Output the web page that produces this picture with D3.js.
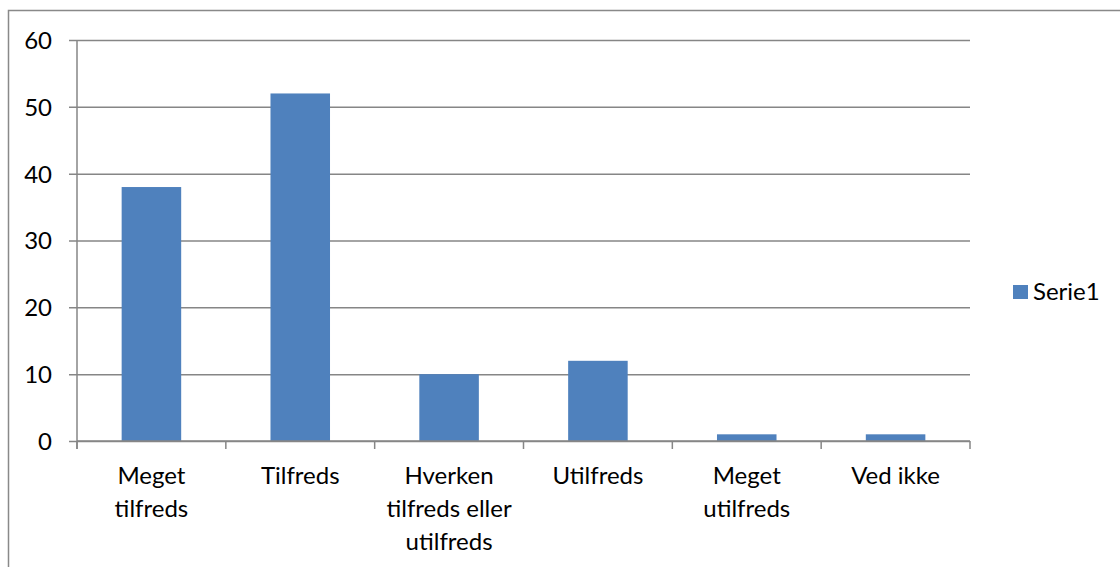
<!DOCTYPE html>
<html>
<head>
<meta charset="utf-8">
<script src="https://cdn.jsdelivr.net/npm/d3@7"></script>
<style>
  body { margin: 0; background: #fff; }
  svg text { font-family: Lato, "Open Sans", sans-serif; fill: #000; }
</style>
</head>
<body>
<div id="chart"></div>
<script>
// data
var categories = [["Meget", "tilfreds"], ["Tilfreds"], ["Hverken", "tilfreds eller", "utilfreds"],
                  ["Utilfreds"], ["Meget", "utilfreds"], ["Ved ikke"]];
var values = [38, 52, 10, 12, 1, 1];
var yTicks = [0, 10, 20, 30, 40, 50, 60];
var seriesName = "Serie1";

var width = 1120, height = 567;
var plotLeft = 77, plotRight = 970, plotTop = 40, plotBottom = 441;
var barColor = "#4f81bd", gridColor = "#868686";
var fontSize = "24px";

var svg = d3.select("#chart").append("svg")
    .attr("width", width)
    .attr("height", height);

// outer chart border (runs off the right and bottom)
svg.append("rect")
    .attr("x", 8.5).attr("y", 10.5)
    .attr("width", 1130).attr("height", 600)
    .attr("fill", "none")
    .attr("stroke", "#898989")
    .attr("stroke-width", 1.5);

var xScale = d3.scaleBand()
    .domain(d3.range(categories.length))
    .range([plotLeft, plotRight])
    .paddingInner(0.6)
    .paddingOuter(0.3);

var xEdges = d3.scaleLinear().domain([0, categories.length]).range([plotLeft, plotRight]);

var yScale = d3.scaleLinear().domain([0, 60]).range([plotBottom, plotTop]);

// gridlines + y axis
var yAxis = d3.axisLeft(yScale)
    .tickValues(yTicks)
    .tickSize(-(plotRight - plotLeft) - 8)
    .tickPadding(17)
    .tickFormat(d3.format("d"));

var yAxisPlot = svg.append("g")
    .attr("class", "axis axis--y")
    .attr("transform", "translate(" + (plotLeft - 8) + ",0)")
    .call(yAxis);
yAxisPlot.select(".domain").remove();
yAxisPlot.selectAll(".tick line").attr("stroke", gridColor).attr("stroke-width", 1.5);
yAxisPlot.selectAll(".tick text")
    .attr("font-family", null).attr("font-size", null)
    .style("font-size", fontSize).attr("dy", "0.35em");

// y axis line
svg.append("line")
    .attr("x1", plotLeft).attr("x2", plotLeft)
    .attr("y1", plotTop).attr("y2", plotBottom + 8)
    .attr("stroke", gridColor).attr("stroke-width", 1.5);

// bars
svg.selectAll(".bar")
    .data(values)
    .enter().append("rect")
    .attr("class", "bar")
    .attr("x", function(d, i) { return xScale(i); })
    .attr("width", xScale.bandwidth())
    .attr("y", function(d) { return yScale(d); })
    .attr("height", function(d) { return yScale(0) - yScale(d); })
    .attr("fill", barColor);

// x axis line + ticks at category boundaries
svg.append("line")
    .attr("x1", plotLeft).attr("x2", plotRight)
    .attr("y1", plotBottom).attr("y2", plotBottom)
    .attr("stroke", gridColor).attr("stroke-width", 1.5);

svg.selectAll(".xtick")
    .data(d3.range(categories.length + 1))
    .enter().append("line")
    .attr("class", "xtick")
    .attr("x1", function(d) { return xEdges(d); })
    .attr("x2", function(d) { return xEdges(d); })
    .attr("y1", plotBottom).attr("y2", plotBottom + 8)
    .attr("stroke", gridColor).attr("stroke-width", 1.5);

// category labels
var labels = svg.selectAll(".xlabel")
    .data(categories)
    .enter().append("text")
    .attr("class", "xlabel")
    .attr("text-anchor", "middle")
    .style("font-size", fontSize);

labels.selectAll("tspan")
    .data(function(d, i) { return d.map(function(t) { return { t: t, i: i }; }); })
    .enter().append("tspan")
    .attr("x", function(d) { return xEdges(d.i + 0.5); })
    .attr("y", function(d, j) { return 484 + j * 33; })
    .text(function(d) { return d.t; });

// legend
var legend = svg.append("g").attr("transform", "translate(1013,285)");
legend.append("rect").attr("width", 15).attr("height", 14).attr("fill", barColor);
legend.append("text")
    .attr("x", 20).attr("y", 7).attr("dy", "0.35em")
    .style("font-size", fontSize)
    .text(seriesName);
</script>
</body>
</html>
